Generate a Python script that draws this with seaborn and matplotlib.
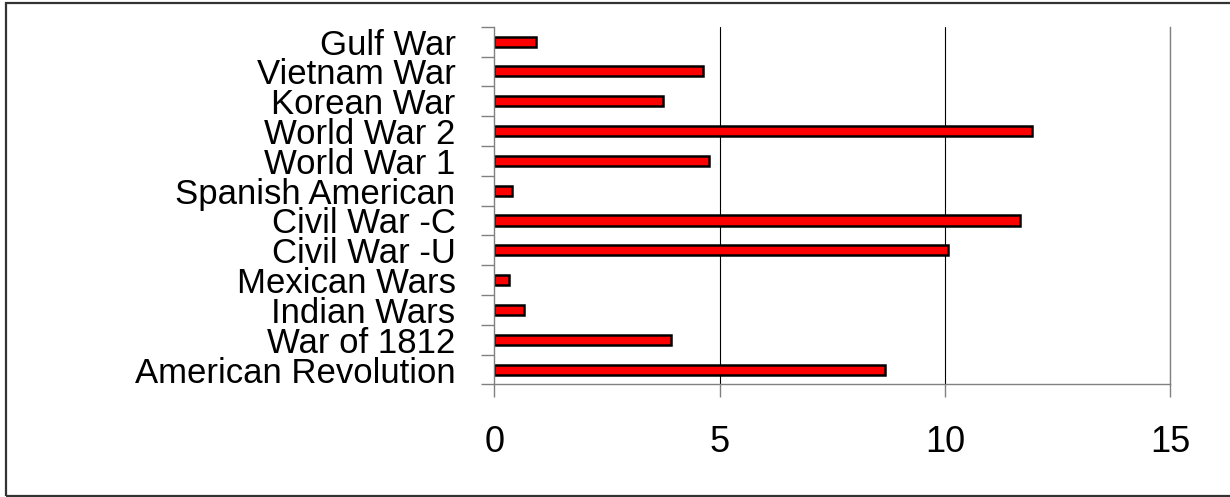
import pandas as pd
import seaborn as sns
import matplotlib.pyplot as plt
from matplotlib.patches import Rectangle

# values (top to bottom)
wars = ["Gulf War", "Vietnam War", "Korean War", "World War 2", "World War 1",
        "Spanish American", "Civil War -C", "Civil War -U", "Mexican Wars",
        "Indian Wars", "War of 1812", "American Revolution"]
values = [0.92, 4.63, 3.73, 11.93, 4.75, 0.39, 11.67, 10.07, 0.33, 0.66, 3.92, 8.66]
x_ticks = [0, 5, 10, 15]


def generate_bar():
    df = pd.DataFrame({"war": wars, "value": values})

    sns.set_style("white")
    plt.rcParams['font.family'] = ['Liberation Sans', 'DejaVu Sans']
    plt.rcParams['text.color'] = 'black'

    fig = plt.figure(figsize=(12.3, 4.97), dpi=100)
    ax = fig.add_axes([0.402, 0.2264, 0.5496, 0.7199])

    sns.barplot(data=df, x="value", y="war", orient="h", color="#ff0000",
                saturation=1, width=0.34, edgecolor="black", linewidth=1.8, ax=ax)

    ax.set_xlim(0, 15)
    ax.set_xticks(x_ticks)
    ax.set_xlabel("")
    ax.set_ylabel("")

    # category labels at bar centres, tick marks at the boundaries
    ax.tick_params(axis="y", which="major", length=0, pad=28, labelsize=25, labelcolor="black")
    ax.set_yticks([i - 0.5 for i in range(len(wars) + 1)], minor=True)
    ax.tick_params(axis="y", which="minor", length=9.5, width=1, color="gray", left=True)
    ax.tick_params(axis="x", length=9, width=1, color="gray", pad=20, labelsize=26,
                   labelcolor="black", bottom=True)

    ax.grid(axis="x", color="black", linewidth=0.8)
    gl = ax.get_xgridlines()
    gl[0].set_visible(False)
    gl[-1].set_color("gray")
    ax.set_axisbelow(True)

    ax.spines["top"].set_visible(False)
    for side in ["left", "bottom", "right"]:
        ax.spines[side].set_color("gray")
        ax.spines[side].set_linewidth(1)

    # outer frame
    fig.patches.append(Rectangle((6 / 1230, 1 / 497), 1.0, 493 / 497, transform=fig.transFigure,
                                 fill=False, edgecolor="#333333", linewidth=1.6))

    fig.savefig("out.png", dpi=100)


if __name__ == '__main__':
    generate_bar()
